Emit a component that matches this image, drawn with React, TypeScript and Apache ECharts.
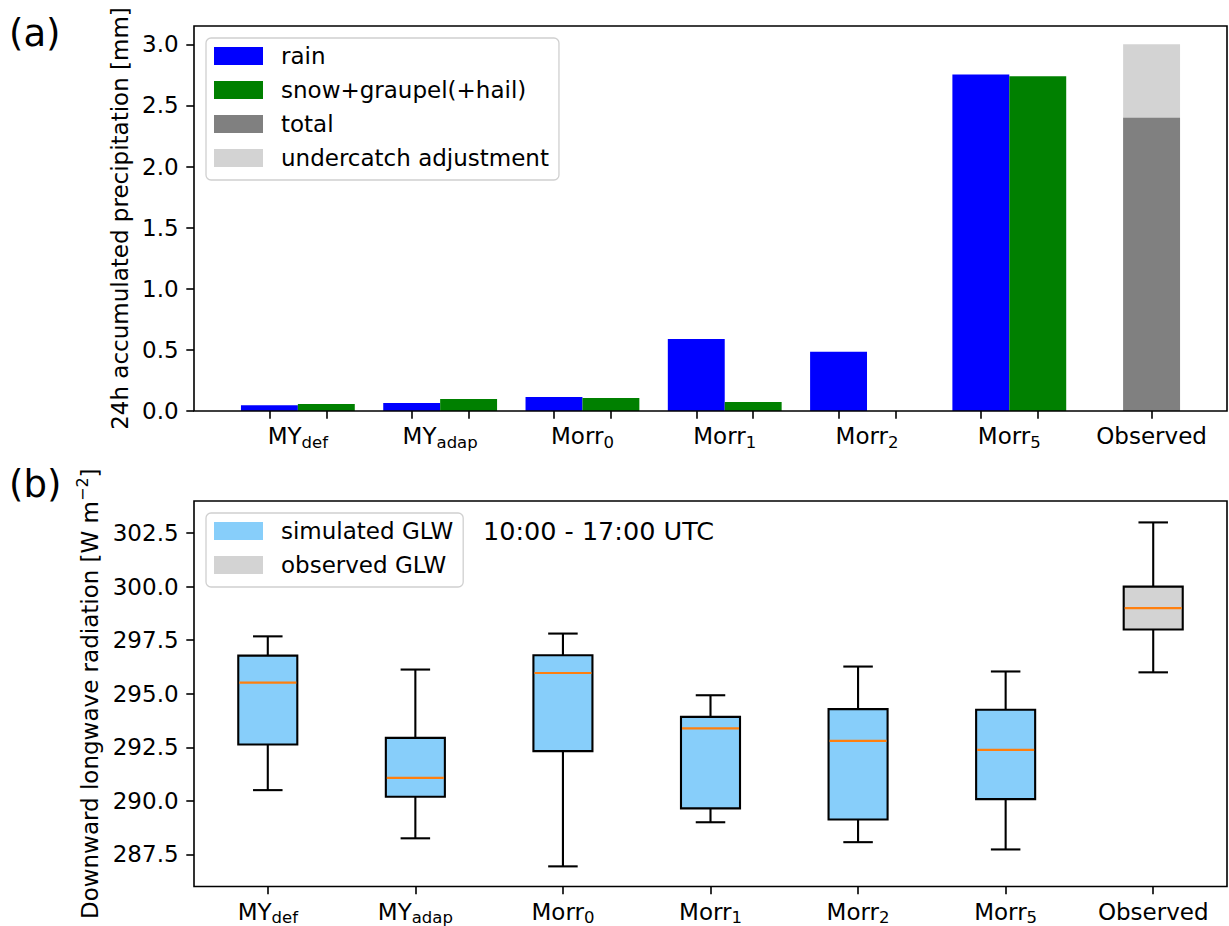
import React, { useEffect, useRef } from 'react';
import * as echarts from 'echarts';

// ---------- data ----------
const modelBase = ['MY', 'MY', 'Morr', 'Morr', 'Morr', 'Morr'];
const modelSub = ['def', 'adap', '0', '1', '2', '5'];
const observedLabel = 'Observed';

const rainValues = [0.047, 0.066, 0.115, 0.59, 0.484, 2.754];
const snowValues = [0.057, 0.098, 0.107, 0.074, 0.0, 2.738];
const observedTotal = 2.4;
const undercatchAdj = 0.6;
const precipTicks = [0, 0.5, 1, 1.5, 2, 2.5, 3];

const glwMin = [290.5, 288.25, 286.94, 289.0, 288.07, 287.73];
const glwQ1 = [292.63, 290.19, 292.32, 289.65, 289.13, 290.08];
const glwMed = [295.52, 291.07, 295.97, 293.38, 292.8, 292.38];
const glwQ3 = [296.78, 292.94, 296.8, 293.92, 294.28, 294.25];
const glwMax = [297.68, 296.13, 297.81, 294.93, 296.27, 296.04];
const obsGlw = [296.0, 298.0, 299.0, 300.0, 303.0];
const glwTicks = [287.5, 290, 292.5, 295, 297.5, 300, 302.5];

const seriesNamesTop = ['rain', 'snow+graupel(+hail)', 'total', 'undercatch adjustment'];
const seriesNamesBot = ['simulated GLW', 'observed GLW'];

// ---------- layout / style ----------
const FONT = 'DejaVu Sans';
const FS = 23;
const GRID_LEFT = 194;
const GRID_W = 1033;
const TOP_Y = 26;
const TOP_H = 385;
const BOT_Y = 501;
const BOT_H = 386;
const BAR_W = 0.4;
const OBS_X = 6.2;
const X_MIN = -0.53;
const X_MAX = 6.73;
const BOX_W = 0.4;
const TICK_LEN = 7.7;
const LW = 1.6;

const C_RAIN = '#0000ff';
const C_SNOW = '#008000';
const C_TOTAL = '#808080';
const C_UNDER = '#d3d3d3';
const C_SIM = '#87cefa';
const C_OBS = '#d3d3d3';
const C_MED = '#ff7f0e';

const labelRich = {
  m: { fontSize: FS, lineHeight: 28, color: '#000', fontFamily: FONT },
  s: { fontSize: 16.5, lineHeight: 16, padding: [12, 0, 0, 0], color: '#000', fontFamily: FONT },
};

const labelText = (i: number) =>
  i < modelBase.length ? `{m|${modelBase[i]}}{s|${modelSub[i]}}` : `{m|${observedLabel}}`;

const topTickPositions = [...modelBase.flatMap((_, i) => [i, i + BAR_W]), OBS_X];
const topLabelPositions = [...modelBase.map((_, i) => i + BAR_W / 2), OBS_X];

function boxRenderItem(params: any, api: any) {
  const x = api.value(0);
  const lo = api.coord([x, api.value(1)]);
  const q1 = api.coord([x, api.value(2)]);
  const med = api.coord([x, api.value(3)]);
  const q3 = api.coord([x, api.value(4)]);
  const hi = api.coord([x, api.value(5)]);
  const band = api.size([1, 0])[0];
  const bw = band * BOX_W;
  const cw = bw / 2;
  const cx = lo[0];
  const fill = api.visual('color');
  const stroke = { stroke: '#000', lineWidth: 2.1 };
  return {
    type: 'group',
    children: [
      { type: 'line', shape: { x1: cx, y1: q1[1], x2: cx, y2: lo[1] }, style: stroke },
      { type: 'line', shape: { x1: cx, y1: q3[1], x2: cx, y2: hi[1] }, style: stroke },
      { type: 'line', shape: { x1: cx - cw / 2, y1: lo[1], x2: cx + cw / 2, y2: lo[1] }, style: stroke },
      { type: 'line', shape: { x1: cx - cw / 2, y1: hi[1], x2: cx + cw / 2, y2: hi[1] }, style: stroke },
      {
        type: 'rect',
        shape: { x: cx - bw / 2, y: q3[1], width: bw, height: q1[1] - q3[1] },
        style: { fill, stroke: '#000', lineWidth: 2.1 },
      },
      {
        type: 'line',
        shape: { x1: cx - bw / 2 + 1, y1: med[1], x2: cx + bw / 2 - 1, y2: med[1] },
        style: { stroke: C_MED, lineWidth: 2.2 },
      },
    ],
  };
}

export default function App() {
  const ref = useRef<HTMLDivElement>(null);

  useEffect(() => {
    if (!ref.current) return;
    const chart = echarts.init(ref.current, undefined, { renderer: 'svg' });
    const barPx = (BAR_W * GRID_W) / (X_MAX - X_MIN);
    const tickStyle = { color: '#000', width: LW };
    const hiddenLine = { show: false, onZero: false };

    const legendCommon = {
      orient: 'vertical',
      padding: [6, 10, 10, 8],
      itemWidth: 49,
      itemHeight: 18,
      itemGap: 10,
      backgroundColor: '#fff',
      borderColor: '#d0d0d0',
      borderWidth: 1.3,
      borderRadius: 5,
      selectedMode: false,
      textStyle: { fontSize: FS, lineHeight: 24, color: '#000', fontFamily: FONT, padding: [0, 0, 0, 13] },
    };

    const option: any = {
      animation: false,
      backgroundColor: '#fff',
      textStyle: { fontFamily: FONT, color: '#000' },
      grid: [
        {
          left: GRID_LEFT, top: TOP_Y, width: GRID_W, height: TOP_H,
          show: true, borderColor: '#000', borderWidth: LW, backgroundColor: 'transparent', z: 10,
        },
        {
          left: GRID_LEFT, top: BOT_Y, width: GRID_W, height: BOT_H,
          show: true, borderColor: '#000', borderWidth: LW, backgroundColor: 'transparent', z: 10,
        },
      ],
      legend: [
        {
          ...legendCommon,
          left: 206,
          top: 38,
          data: seriesNamesTop.map((n, i) => ({
            name: n,
            icon: 'rect',
            itemStyle: { color: [C_RAIN, C_SNOW, C_TOTAL, C_UNDER][i], borderWidth: 0 },
          })),
        },
        {
          ...legendCommon,
          left: 206,
          top: 513,
          data: seriesNamesBot.map((n, i) => ({
            name: n,
            icon: 'rect',
            itemStyle: { color: [C_SIM, C_OBS][i], borderWidth: 0 },
          })),
        },
      ],
      xAxis: [
        {
          type: 'value',
          gridIndex: 0,
          min: X_MIN,
          max: X_MAX,
          splitLine: { show: false },
          axisLine: hiddenLine,
          axisTick: { show: true, customValues: topTickPositions, length: TICK_LEN, lineStyle: tickStyle },
          axisLabel: {
            customValues: topLabelPositions,
            margin: 11,
            rich: labelRich,
            formatter: (v: number) => {
              let best = 0;
              topLabelPositions.forEach((p, i) => {
                if (Math.abs(p - v) < Math.abs(topLabelPositions[best] - v)) best = i;
              });
              return labelText(best);
            },
          },
        },
        {
          type: 'category',
          gridIndex: 1,
          data: [...modelBase.map((b, i) => b + modelSub[i]), observedLabel],
          boundaryGap: true,
          axisLine: hiddenLine,
          axisTick: { show: true, alignWithLabel: true, length: TICK_LEN, lineStyle: tickStyle },
          axisLabel: {
            margin: 11,
            interval: 0,
            rich: labelRich,
            formatter: (_v: string, i: number) => labelText(i),
          },
        },
      ],
      yAxis: [
        {
          type: 'value',
          gridIndex: 0,
          min: 0,
          max: 3.15,
          splitLine: { show: false },
          axisLine: hiddenLine,
          axisTick: { show: true, customValues: precipTicks, length: TICK_LEN, lineStyle: tickStyle },
          axisLabel: {
            customValues: precipTicks,
            formatter: (v: number) => v.toFixed(1),
            fontSize: FS,
            margin: 15.4,
            color: '#000',
          },
          name: '24h accumulated precipitation [mm]',
          nameLocation: 'middle',
          nameGap: 58,
          nameTextStyle: { fontSize: FS, color: '#000', fontFamily: FONT },
        },
        {
          type: 'value',
          gridIndex: 1,
          min: 286,
          max: 304,
          splitLine: { show: false },
          axisLine: hiddenLine,
          axisTick: { show: true, customValues: glwTicks, length: TICK_LEN, lineStyle: tickStyle },
          axisLabel: {
            customValues: glwTicks,
            formatter: (v: number) => v.toFixed(1),
            fontSize: FS,
            margin: 15.4,
            color: '#000',
          },
          name: '{n|Downward longwave radiation [W m}{sup|\u22122}{n|]}',
          nameLocation: 'middle',
          nameGap: 82,
          nameTextStyle: {
            fontSize: FS,
            color: '#000',
            fontFamily: FONT,
            rich: {
              n: { fontSize: FS, lineHeight: 27, verticalAlign: 'bottom', color: '#000', fontFamily: FONT },
              sup: { fontSize: 16, lineHeight: 16, verticalAlign: 'top', color: '#000', fontFamily: FONT },
            },
          },
        },
      ],
      series: [
        {
          type: 'bar',
          name: seriesNamesTop[0],
          xAxisIndex: 0,
          yAxisIndex: 0,
          barWidth: barPx,
          barGap: '-100%',
          itemStyle: { color: C_RAIN },
          data: rainValues.map((v, i) => [i, v]),
        },
        {
          type: 'bar',
          name: seriesNamesTop[1],
          xAxisIndex: 0,
          yAxisIndex: 0,
          barWidth: barPx,
          barGap: '-100%',
          itemStyle: { color: C_SNOW },
          data: snowValues.map((v, i) => [i + BAR_W, v]),
        },
        {
          // undercatch adjustment sits on top of the observed total
          type: 'bar',
          name: seriesNamesTop[3],
          xAxisIndex: 0,
          yAxisIndex: 0,
          barWidth: barPx,
          barGap: '-100%',
          itemStyle: { color: C_UNDER },
          data: [[OBS_X, observedTotal + undercatchAdj]],
        },
        {
          type: 'bar',
          name: seriesNamesTop[2],
          xAxisIndex: 0,
          yAxisIndex: 0,
          barWidth: barPx,
          barGap: '-100%',
          itemStyle: { color: C_TOTAL },
          data: [[OBS_X, observedTotal]],
        },
        {
          type: 'custom',
          name: seriesNamesBot[0],
          xAxisIndex: 1,
          yAxisIndex: 1,
          itemStyle: { color: C_SIM },
          renderItem: boxRenderItem,
          encode: { x: 0, y: [1, 2, 3, 4, 5] },
          data: glwMin.map((_, i) => [i, glwMin[i], glwQ1[i], glwMed[i], glwQ3[i], glwMax[i]]),
        },
        {
          type: 'custom',
          name: seriesNamesBot[1],
          xAxisIndex: 1,
          yAxisIndex: 1,
          itemStyle: { color: C_OBS },
          renderItem: boxRenderItem,
          encode: { x: 0, y: [1, 2, 3, 4, 5] },
          data: [[modelBase.length, ...obsGlw]],
        },
      ],
      graphic: [
        {
          type: 'text',
          left: 9,
          top: 15,
          style: { text: '(a)', fontSize: 37, fill: '#000', fontFamily: FONT },
        },
        {
          type: 'text',
          left: 9,
          top: 466,
          style: { text: '(b)', fontSize: 37, fill: '#000', fontFamily: FONT },
        },
        {
          type: 'text',
          x: 483,
          y: 530.5,
          style: {
            text: '10:00 - 17:00 UTC',
            fontSize: 25.5,
            fill: '#000',
            fontFamily: FONT,
            textAlign: 'left',
            textVerticalAlign: 'middle',
          },
        },
      ],
    };

    chart.setOption(option);
    return () => chart.dispose();
  }, []);

  return (
    <div
      ref={ref}
      style={{ position: 'fixed', left: 0, top: 0, width: 1229, height: 926, background: '#fff' }}
    />
  );
}
